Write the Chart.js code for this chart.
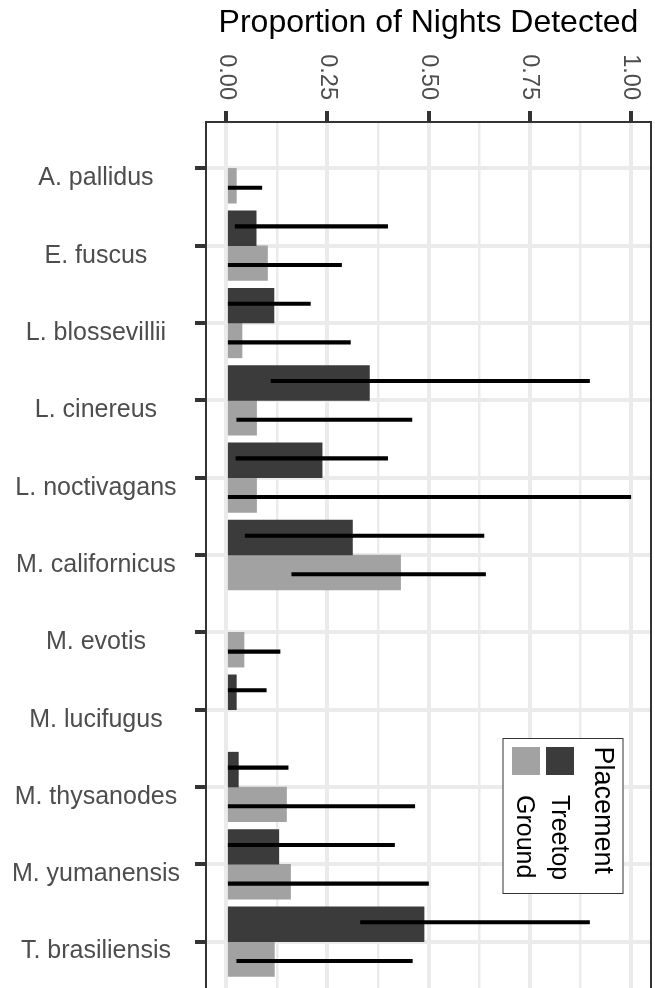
<!DOCTYPE html>
<html>
<head>
<meta charset="utf-8">
<script src="https://cdn.jsdelivr.net/npm/chart.js@4.4.1/dist/chart.umd.min.js"></script>
<style>
  html, body { margin: 0; padding: 0; background: #fff; }
  #wrap { width: 655px; height: 988px; overflow: hidden; }
</style>
</head>
<body>
<div id="wrap"><canvas id="detectChart" width="655" height="988"></canvas></div>
<script>
const species = ['A. pallidus', 'E. fuscus', 'L. blossevillii', 'L. cinereus', 'L. noctivagans',
  'M. californicus', 'M. evotis', 'M. lucifugus', 'M. thysanodes', 'M. yumanensis', 'T. brasiliensis'];

// proportion of nights detected, per placement
const treetopProp = [null, 0.074, 0.118, 0.354, 0.237, 0.312, null, 0.025, 0.030, 0.130, 0.489];
const groundProp = [0.025, 0.102, 0.039, 0.075, 0.075, 0.431, 0.044, null, 0.149, 0.159, 0.119];

// interval ends
const treetopLow = [null, 0.022, 0, 0.111, 0.024, 0.047, null, 0, 0, 0, 0.332];
const treetopHigh = [null, 0.399, 0.208, 0.898, 0.399, 0.637, null, 0.099, 0.153, 0.416, 0.898];
const groundLow = [0, 0, 0, 0.026, 0, 0.162, 0, null, 0, 0, 0.026];
const groundHigh = [0.088, 0.285, 0.307, 0.459, 1.0, 0.641, 0.133, null, 0.466, 0.5, 0.460];

const xTicks = [0, 0.25, 0.5, 0.75, 1];
const xTickLabels = ['0.00', '0.25', '0.50', '0.75', '1.00'];

const treetopColor = '#3b3b3b';
const groundColor = '#a2a2a2';
const gridColor = '#ebebeb';
const fontFamily = '"Liberation Sans", Arial, Helvetica, sans-serif';

// species axis runs from -0.6 to n - 0.4, like ggplot's discrete expansion
const yMin = -0.6;
const yMax = species.length - 0.4;
const barDodge = 0.225;   // bars dodged at 0.9
const errDodge = 0.25;    // intervals dodged at 1.0

Chart.defaults.font.family = fontFamily;

function toPoints(vals) {
    return vals.map(function (v, i) { return v === null ? null : { x: v, y: i }; }).filter(Boolean);
}
function toRanges(lo, hi) {
    return lo.map(function (v, i) { return v === null ? null : { x: [v, hi[i]], y: i }; }).filter(Boolean);
}
// hidden copy of the species axis, slid by a dodge amount
function dodgeAxis(shift) {
    return {
        type: 'linear', position: 'left', reverse: true, display: false,
        offset: false, bounds: 'data', grid: { offset: false },
        min: yMin - shift, max: yMax - shift
    };
}

// major ticks plus the minor ones halfway between
const xGrid = [];
xTicks.forEach(function (v, i) {
    if (i > 0) xGrid.push((xTicks[i - 1] + v) / 2);
    xGrid.push(v);
});
const isMajor = function (v) { return xTicks.some(function (t) { return Math.abs(t - v) < 1e-9; }); };
const noPad = function (scale) {
    scale.paddingTop = 0; scale.paddingBottom = 0; scale.paddingLeft = 0; scale.paddingRight = 0;
};

const panelDecor = {
    id: 'panelDecor',
    afterDatasetsDraw: function (chart) {
        const ctx = chart.ctx;
        const a = chart.chartArea;
        ctx.save();

        // panel border (its lower edge falls just below the picture)
        ctx.strokeStyle = '#333333';
        ctx.lineWidth = 2;
        ctx.strokeRect(a.left, a.top, a.right - a.left, a.bottom - a.top + 3);

        // x tick labels, turned a quarter clockwise
        ctx.font = '23.5px ' + fontFamily;
        ctx.fillStyle = '#4d4d4d';
        ctx.textAlign = 'right';
        ctx.textBaseline = 'middle';
        xTicks.forEach(function (v, i) {
            const px = chart.scales.x.getPixelForValue(v);
            ctx.save();
            ctx.translate(px, a.top - 22);
            ctx.rotate(Math.PI / 2);
            ctx.fillText(xTickLabels[i], 0, 0);
            ctx.restore();
        });

        // legend box, also turned
        const lx = a.right - 148.5;
        const ly = a.top + 616;
        ctx.fillStyle = '#ffffff';
        ctx.fillRect(lx, ly, 121, 156);
        ctx.strokeStyle = '#333333';
        ctx.lineWidth = 1;
        ctx.strokeRect(lx + 0.5, ly + 0.5, 120, 155);

        ctx.fillStyle = groundColor;
        ctx.fillRect(lx + 9.5, ly + 9, 28, 28);
        ctx.fillStyle = treetopColor;
        ctx.fillRect(lx + 43.5, ly + 9, 28, 28);

        const legendText = [
            { text: 'Placement', x: lx + 100, y: ly + 8.5, size: 27 },
            { text: 'Treetop', x: lx + 56, y: ly + 57, size: 25 },
            { text: 'Ground', x: lx + 21, y: ly + 57, size: 25 }
        ];
        ctx.fillStyle = '#000000';
        ctx.textAlign = 'left';
        ctx.textBaseline = 'middle';
        legendText.forEach(function (t) {
            ctx.font = t.size + 'px ' + fontFamily;
            ctx.save();
            ctx.translate(t.x, t.y);
            ctx.rotate(Math.PI / 2);
            ctx.fillText(t.text, 0, 0);
            ctx.restore();
        });

        ctx.restore();
    }
};

new Chart(document.getElementById('detectChart'), {
    type: 'bar',
    data: {
        datasets: [
            {
                label: 'Treetop interval', data: toRanges(treetopLow, treetopHigh), backgroundColor: '#000000',
                borderWidth: 0, grouped: false, barThickness: 3.4, yAxisID: 'yTreetopErr'
            },
            {
                label: 'Ground interval', data: toRanges(groundLow, groundHigh), backgroundColor: '#000000',
                borderWidth: 0, grouped: false, barThickness: 3.4, yAxisID: 'yGroundErr'
            },
            {
                label: 'Treetop', data: toPoints(treetopProp), backgroundColor: treetopColor,
                borderWidth: 0, grouped: false, barThickness: 34.8, yAxisID: 'yTreetop'
            },
            {
                label: 'Ground', data: toPoints(groundProp), backgroundColor: groundColor,
                borderWidth: 0, grouped: false, barThickness: 34.8, yAxisID: 'yGround'
            }
        ]
    },
    options: {
        indexAxis: 'y',
        responsive: false,
        animation: false,
        devicePixelRatio: 1,
        layout: { padding: { top: 0, right: 4, bottom: 0, left: 0 } },
        plugins: {
            legend: { display: false },
            tooltip: { enabled: false }
        },
        scales: {
            x: {
                type: 'linear',
                position: 'top',
                stacked: false,
                min: -0.05,
                max: 1.05,
                bounds: 'data',
                afterBuildTicks: function (scale) {
                    scale.ticks = xGrid.map(function (v) { return { value: v }; });
                },
                afterFit: function (scale) { scale.height = 122; noPad(scale); },
                ticks: { display: false },
                grid: {
                    color: gridColor,
                    lineWidth: function (c) { return isMajor(c.tick.value) ? 4 : 2.5; },
                    tickColor: function (c) { return isMajor(c.tick.value) ? '#333333' : 'rgba(0,0,0,0)'; },
                    tickWidth: 4,
                    tickLength: 11
                },
                border: { display: false },
                title: {
                    display: true,
                    text: 'Proportion of Nights Detected',
                    color: '#000000',
                    font: { size: 32 },
                    padding: { top: 4, bottom: 0 }
                }
            },
            y: {
                type: 'linear',
                position: 'left',
                reverse: true,
                offset: false,
                min: yMin,
                max: yMax,
                bounds: 'data',
                afterBuildTicks: function (scale) {
                    scale.ticks = species.map(function (_, i) { return { value: i }; });
                },
                afterFit: function (scale) { scale.width = 206; noPad(scale); },
                ticks: {
                    autoSkip: false,
                    crossAlign: 'center',
                    padding: 15,
                    labelOffset: 10,
                    color: '#4d4d4d',
                    font: { size: 25 },
                    callback: function (v) { return species[v]; }
                },
                grid: {
                    offset: false,
                    color: gridColor,
                    lineWidth: 4,
                    tickColor: '#333333',
                    tickWidth: 4,
                    tickLength: 11
                },
                border: { display: false }
            },
            yTreetop: dodgeAxis(-barDodge),
            yGround: dodgeAxis(barDodge),
            yTreetopErr: dodgeAxis(-errDodge),
            yGroundErr: dodgeAxis(errDodge)
        }
    },
    plugins: [panelDecor]
});
</script>
</body>
</html>
